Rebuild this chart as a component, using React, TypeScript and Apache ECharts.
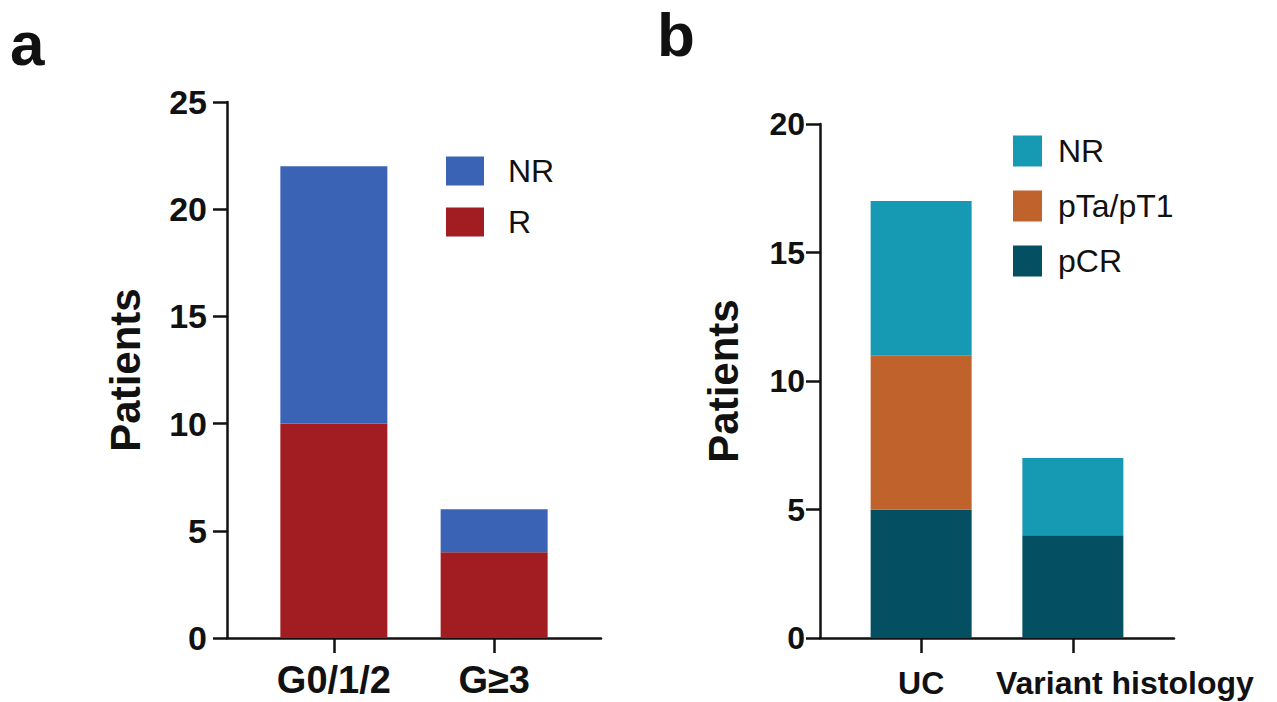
import React, { useEffect, useRef } from "react";
import * as echarts from "echarts";

// Panel a
const catsA = ["G0/1/2", "G≥3"];
const aR = [10, 4];
const aNR = [12, 2];
const yMaxA = 25;

// Panel b
const catsB = ["UC", "Variant histology"];
const bPCR = [5, 4];
const bPTa = [6, 0];
const bNR = [6, 3];
const yMaxB = 20;

// slots on the axis where the two categories sit (8 evenly spaced points)
const SLOTS = [2, 5];
const NSLOTS = 8;

const FONT = "'Liberation Sans', Arial, Helvetica, sans-serif";

const colA = { NR: "#3A63B5", R: "#A21D22" };
const colB = { NR: "#1699B3", PTA: "#C0622B", PCR: "#044F62" };

const axisCats = (cats: string[]) => {
  const arr: string[] = Array(NSLOTS).fill("");
  cats.forEach((c, i) => (arr[SLOTS[i]] = c));
  return arr;
};
const slotData = (vals: number[]) => {
  const arr: any[] = Array(NSLOTS).fill("-");
  vals.forEach((v, i) => (arr[SLOTS[i]] = v));
  return arr;
};

export default function App() {
  const ref = useRef<HTMLDivElement>(null);
  useEffect(() => {
    if (!ref.current) return;
    const chart = echarts.init(ref.current, null, { renderer: "svg" });

    const yAxisCommon = (gridIndex: number, max: number, fs: number, margin: number, nameGap: number) => ({
      type: "value",
      gridIndex,
      min: 0,
      max,
      interval: 5,
      name: "Patients",
      nameLocation: "middle",
      nameRotate: 90,
      nameGap,
      nameTextStyle: { fontFamily: FONT, fontWeight: "bold", fontSize: 42, color: "#111" },
      axisLine: { show: true, lineStyle: { color: "#111", width: 2.5 } },
      axisTick: { show: true, length: 14, lineStyle: { color: "#111", width: 2.5 } },
      axisLabel: { fontFamily: FONT, fontWeight: "bold", fontSize: fs, color: "#111", margin },
      splitLine: { show: false },
    });

    const onlyNamed = (idx: number, val: string) => val !== "";

    const xAxisCommon = (gridIndex: number, cats: string[], fs: number, margin: number, rich: any) => ({
      type: "category",
      gridIndex,
      boundaryGap: false,
      data: axisCats(cats),
      axisLine: { show: true, onZero: false, lineStyle: { color: "#111", width: 2.5 } },
      axisTick: { show: true, length: 15, interval: onlyNamed, lineStyle: { color: "#111", width: 2.5 } },
      axisLabel: {
        interval: onlyNamed,
        fontFamily: FONT,
        fontWeight: "bold",
        fontSize: fs,
        color: "#111",
        margin,
        formatter: (v: string) => (rich && v === cats[1] ? "{s|" + v + "}" : v),
        rich: rich || undefined,
      },
      splitLine: { show: false },
    });

    chart.setOption({
      animation: false,
      backgroundColor: "#fff",
      textStyle: { fontFamily: FONT },
      grid: [
        { left: 227, top: 102, width: 374, height: 536 },
        { left: 820, top: 124, width: 354, height: 514 },
      ],
      xAxis: [
        xAxisCommon(0, catsA, 38, 23, null),
        xAxisCommon(1, catsB, 32, 29, {
          s: { fontFamily: FONT, fontWeight: "bold", fontSize: 32, color: "#111", padding: [0, 0, 0, 104] },
        }),
      ],
      yAxis: [yAxisCommon(0, yMaxA, 34, 20, 81), yAxisCommon(1, yMaxB, 32, 15, 76)],
      legend: [
        {
          orient: "vertical",
          left: 446,
          top: 155,
          padding: 0,
          itemWidth: 38,
          itemHeight: 29,
          itemGap: 19,
          icon: "rect",
          selectedMode: false,
          textStyle: { fontFamily: FONT, fontSize: 32, color: "#111", lineHeight: 29, padding: [0, 0, 0, 19] },
          data: [
            { name: "NR", itemStyle: { color: colA.NR } },
            { name: "R", itemStyle: { color: colA.R } },
          ],
        },
        {
          orient: "vertical",
          left: 1013,
          top: 135,
          padding: 0,
          itemWidth: 29,
          itemHeight: 31,
          itemGap: 23,
          icon: "rect",
          selectedMode: false,
          textStyle: { fontFamily: FONT, fontSize: 32, color: "#111", lineHeight: 31, padding: [0, 0, 0, 11] },
          data: [
            { name: "NR", itemStyle: { color: colB.NR } },
            { name: "pTa/pT1", itemStyle: { color: colB.PTA } },
            { name: "pCR", itemStyle: { color: colB.PCR } },
          ],
        },
      ],
      graphic: [
        { type: "text", left: 10, top: 12, style: { text: "a", fontFamily: FONT, fontWeight: "bold", fontSize: 62, lineHeight: 36, fill: "#111" } },
        { type: "text", left: 657, top: 3, style: { text: "b", fontFamily: FONT, fontWeight: "bold", fontSize: 62, lineHeight: 40, fill: "#111" } },
      ],
      series: [
        { name: "R", type: "bar", stack: "a", xAxisIndex: 0, yAxisIndex: 0, barWidth: 107, data: slotData(aR), itemStyle: { color: colA.R } },
        { name: "NR", type: "bar", stack: "a", xAxisIndex: 0, yAxisIndex: 0, barWidth: 107, data: slotData(aNR), itemStyle: { color: colA.NR } },
        { name: "pCR", type: "bar", stack: "b", xAxisIndex: 1, yAxisIndex: 1, barWidth: 101, data: slotData(bPCR), itemStyle: { color: colB.PCR } },
        { name: "pTa/pT1", type: "bar", stack: "b", xAxisIndex: 1, yAxisIndex: 1, barWidth: 101, data: slotData(bPTa), itemStyle: { color: colB.PTA } },
        { name: "NR", type: "bar", stack: "b", xAxisIndex: 1, yAxisIndex: 1, barWidth: 101, data: slotData(bNR), itemStyle: { color: colB.NR } },
      ],
    });
    return () => chart.dispose();
  }, []);
  return <div ref={ref} style={{ position: "fixed", left: 0, top: 0, width: 1277, height: 702 }} />;
}
